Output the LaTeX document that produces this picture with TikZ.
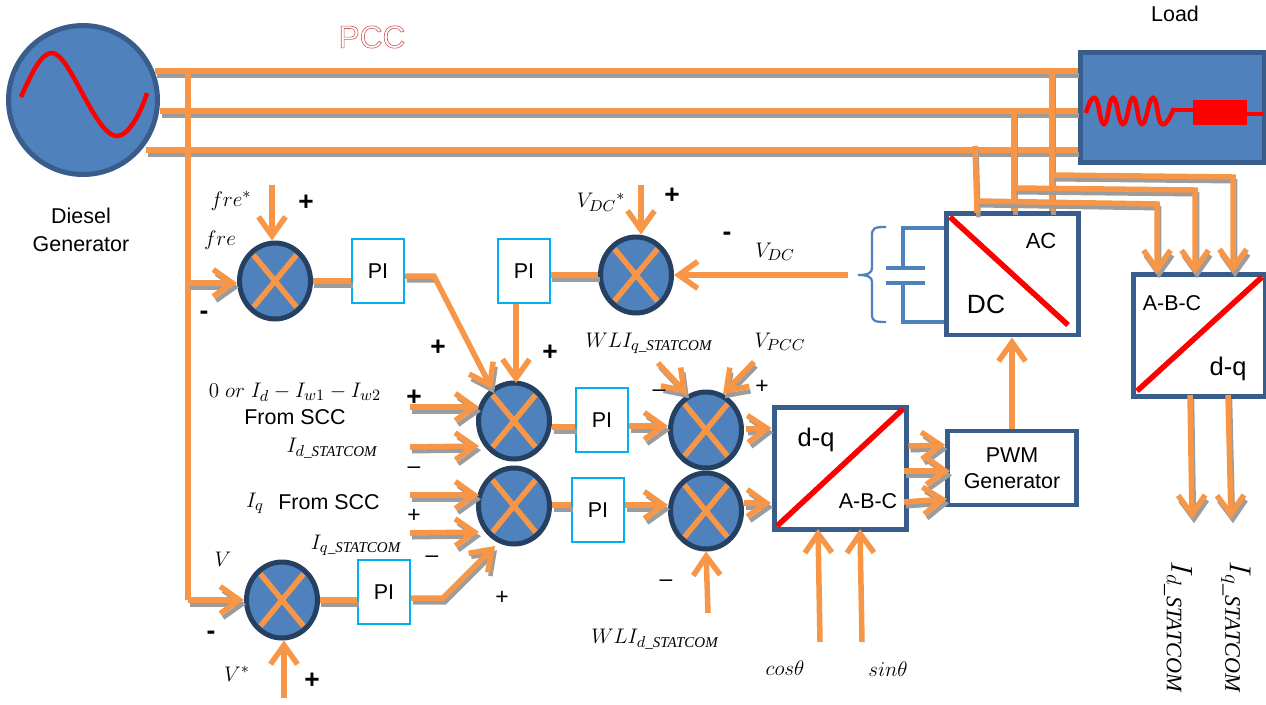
\documentclass[tikz,border=0pt]{standalone}
\usepackage{amsmath}
\usepackage{fontspec}
\setmainfont{Liberation Sans}
\newfontfamily\serifit{Liberation Serif}
\usetikzlibrary{arrows.meta, shapes.geometric}
\definecolor{wireorange}{HTML}{F79646}
\definecolor{wireshade}{HTML}{9C9C9C}
\definecolor{blockblue}{HTML}{4F81BD}
\definecolor{edgeblue}{HTML}{385D8A}
\definecolor{sumedge}{HTML}{254061}
\definecolor{piblue}{HTML}{00B0F0}
\newcommand{\stat}[1]{#1\text{\serifit\itshape\_STATCOM}}
\tikzset{
    barb/.tip={Straight Barb[length=0.38cm, width=0.54cm]},
    wire/.style={draw=wireorange, line width=0.11cm,
        preaction={draw=wireshade, line width=0.09cm, transform canvas={xshift=0.03cm, yshift=-0.085cm}}},
    feed/.style={draw=wireorange, line width=0.11cm},
    arrow wire/.style={draw=wireorange, line width=0.11cm, -barb,
        preaction={draw=wireshade, line width=0.09cm, -barb, transform canvas={xshift=0.04cm, yshift=-0.085cm}}},
    arrow feed/.style={feed, -barb},
    sumnode/.style={ellipse, draw=sumedge, fill=blockblue, line width=0.1cm, minimum width=1.42cm, minimum height=1.52cm, inner sep=0pt,
        path picture={
            \draw[wireorange, line width=0.11cm] ([shift={(-0.43cm,-0.52cm)}]path picture bounding box.center)
                -- ([shift={(0.43cm,0.52cm)}]path picture bounding box.center);
            \draw[wireorange, line width=0.11cm] ([shift={(-0.43cm,0.52cm)}]path picture bounding box.center)
                -- ([shift={(0.43cm,-0.52cm)}]path picture bounding box.center);
        }},
    pibox/.style={draw=piblue, fill=white, line width=0.045cm, minimum width=1.03cm, minimum height=1.28cm, inner sep=0pt, font=\fontsize{12.2}{14}\selectfont},
    convbox/.style={draw=edgeblue, fill=white, line width=0.1cm, inner sep=0pt},
    slash/.style={draw=red, line width=0.11cm},
    lab/.style={inner sep=0pt, font=\fontsize{12.2}{14}\selectfont},
    sign/.style={inner sep=0pt, font=\fontsize{15}{15}\selectfont\bfseries},
    thinsign/.style={inner sep=0pt, font=\fontsize{13}{13}\selectfont},
}
\begin{document}
\begin{tikzpicture}[x=0.02cm, y=-0.02cm]
\useasboundingbox (0,0) rectangle (1266,704);
% source and load
\node[circle, draw=edgeblue, fill=blockblue, line width=0.1cm, minimum size=2.98cm, inner sep=0pt] (genr) at (83,100) {};
\draw[red, line width=0.09cm] (21,97) .. controls (35,65) and (43,53) .. (52,53) .. controls (70,53) and (95,136) .. (117,136) .. controls (128,136) and (140,115) .. (147,93);
\node[lab, align=center] (genrname) at (81,230) {Diesel\\[2pt]Generator};
\node[draw=edgeblue, fill=blockblue, line width=0.1cm, minimum width=3.68cm, minimum height=2.22cm, inner sep=0pt] (load) at (1172,107.5) {};
\node[lab] (loadname) at (1175,14) {Load};
\draw[red, line width=0.09cm] plot[smooth, tension=0.9] coordinates {(1086,113) (1095,98) (1104,124) (1113,98) (1123,124) (1133,98) (1142,124) (1153,98) (1162,124) (1174,108)};
\node[fill=red, minimum width=1.08cm, minimum height=0.5cm, inner sep=0pt] (resist) at (1220,112.5) {};
\draw[red, line width=0.07cm] (1174,110) -- (resist.west |- 1174,110);
\draw[red, line width=0.07cm] (resist.east |- 1247,114) -- (1263,114);
\node (pcc) at (372,37) {\fontsize{18}{18}\selectfont\special{pdf:code q 1 Tr 0.35 w 0.80 0.35 0.35 RG}PCC\special{pdf:code Q}};
% converters
\node[convbox, minimum width=2.64cm, minimum height=2.44cm] (acdc) at (1012,274) {};
\draw[slash] (950,217) -- (1068,325);
\node[lab, font=\fontsize{12.5}{14}\selectfont] (aclab) at (1041,241) {AC};
\node[lab, font=\fontsize{15}{15}\selectfont] (dclab) at (986,304) {DC};
\node[convbox, minimum width=2.64cm, minimum height=2.44cm] (abcdq) at (1199,335) {};
\draw[slash] (1137,391) -- (1262,277);
\node[lab] (abclab) at (1172,303) {A-B-C};
\node[lab, font=\fontsize{14.5}{15}\selectfont] (dqlab) at (1228,369) {d-q};
\node[convbox, minimum width=2.64cm, minimum height=2.44cm] (dqabc) at (840,468) {};
\draw[slash] (777,526) -- (903,409);
\node[lab, font=\fontsize{14.5}{15}\selectfont] (dqtext) at (816,440) {d-q};
\node[lab] (abctext) at (868,501) {A-B-C};
\node[convbox, line width=0.09cm, minimum width=2.58cm, minimum height=1.48cm, align=center, font=\fontsize{12.2}{15}\selectfont] (pwm) at (1012,468) {PWM\\Generator};
% summing points and PI blocks
\node[sumnode] (sumf) at (275,281) {};
\node[sumnode] (sumv) at (282,600) {};
\node[sumnode] (sumdc) at (636,275) {};
\node[sumnode] (sumd) at (514,421) {};
\node[sumnode] (sumq) at (514,506) {};
\node[sumnode] (sumvd) at (706,430) {};
\node[sumnode] (sumvq) at (706,511) {};
\node[pibox] (pif) at (378,271) {PI};
\node[pibox] (pidc) at (524,271) {PI};
\node[pibox] (piv) at (384,592) {PI};
\node[pibox] (pid) at (602,420) {PI};
\node[pibox] (piq) at (598,510) {PI};
% three phase lines
\coordinate (busa) at (155,71);
\coordinate (busb) at (160,111);
\coordinate (busc) at (146,150);
\draw[wire] (busa) -- (busa -| load.west);
\draw[wire] (busb) -- (busb -| load.west);
\draw[wire] (busc) -- (busc -| load.west);
\coordinate (tapf) at (188,71);
\coordinate (tapfa) at (188,283);
\coordinate (tapfb) at (188,600);
\draw[feed] (tapf) -- (tapfb);
\draw[arrow wire] (tapfa) -- (sumf.west |- tapfa);
\draw[arrow wire] (tapfb) -- (sumv.west);
\coordinate (tapa) at (1052,71);
\coordinate (tapb) at (1014,111);
\coordinate (tapc) at (975,146);
\draw[wire] (tapa) -- (tapa |- acdc.north);
\draw[wire] (tapb) -- (tapb |- acdc.north);
\draw[wire] (tapc) -- (977,213);
\coordinate (brca) at (1052,175);
\coordinate (brcb) at (1014,188);
\coordinate (brcc) at (977,201);
\draw[arrow wire] (brca) -- (1233,177) -- (1233,273);
\draw[arrow wire] (brcb) -- (1195,190) -- (1195,274);
\draw[arrow wire] (brcc) -- (1157,204) -- (1157,274);
% capacitor
\draw[blockblue, line width=0.08cm] (acdc.west |- 0,228) -- (903,228) -- (903,268);
\draw[blockblue, line width=0.08cm] (886,268) -- (925,268) (886,283) -- (925,283);
\draw[blockblue, line width=0.08cm] (903,283) -- (903,322) -- (acdc.west |- 0,322);
\draw[blockblue, line width=0.045cm] (886,227) .. controls (874,227) and (872,228) .. (872,236) -- (872,268) .. controls (872,273) and (868,275) .. (858,275) .. controls (868,275) and (872,277) .. (872,282) -- (872,314) .. controls (872,321) and (874,322) .. (886,322);
% control paths
\coordinate (frefin) at (272,185);
\coordinate (vrefin) at (284,698);
\coordinate (dcrefin) at (641,185);
\coordinate (dcin) at (848,275);
\draw[arrow feed] (frefin) -- (frefin |- sumf.north);
\draw[arrow feed] (vrefin) -- (vrefin |- sumv.south);
\draw[arrow feed] (dcrefin) -- (dcrefin |- sumdc.north);
\draw[arrow feed] (dcin) -- (dcin -| sumdc.east);
\draw[wire] (sumf.east) -- (sumf.east -| pif.west);
\draw[wire] (sumv.east) -- (sumv.east -| piv.west);
\draw[wire] (pidc.east |- sumdc.west) -- (sumdc.west);
\coordinate (bendf) at (434,276);
\coordinate (bendv) at (443,598);
\draw[arrow wire] (pif.east |- bendf) -- (bendf) -- (492,389);
\draw[arrow wire] (piv.east |- bendv) -- (bendv) -- (495,546);
\draw[arrow feed] (516,304) -- (516,383);
\coordinate (ida) at (410,407);
\coordinate (idb) at (410,447);
\coordinate (iqa) at (410,495);
\coordinate (iqb) at (410,533);
\draw[arrow wire] (ida) -- (479,407);
\draw[arrow wire] (idb) -- (479,446);
\draw[arrow wire] (iqa) -- (479,495);
\draw[arrow wire] (iqb) -- (479,532);
\draw[wire] (sumd.east |- 0,427) -- (pid.west |- 0,427);
\draw[wire] (sumq.east |- 0,505) -- (piq.west |- 0,505);
\draw[arrow wire] (pid.east |- 0,426) -- (sumvd.west |- 0,426);
\draw[arrow wire] (piq.east |- 0,505) -- (sumvq.west |- 0,505);
\draw[arrow wire] (658,363) -- (687,394);
\draw[arrow wire] (754,362) -- (723,394);
\coordinate (wlid) at (708,613);
\draw[arrow feed] (wlid) -- (sumvq.south);
\draw[arrow wire] (746,429) -- (dqabc.west |- 0,428);
\draw[arrow wire] (744,503) -- (771,503);
\draw[arrow wire] (dqabc.east |- 0,446) -- (pwm.west |- 0,445);
\draw[arrow wire] (904,471) -- (950,471);
\draw[arrow wire] (904,502) -- (947,499);
\draw[arrow feed] (pwm.north) -- (acdc.south);
\coordinate (cosin) at (820,642);
\coordinate (sinin) at (862,642);
\draw[arrow feed] (cosin) -- (818,529);
\draw[arrow feed] (sinin) -- (860,529);
\coordinate (outd) at (1192,519);
\coordinate (outq) at (1231,519);
\draw[arrow wire] (1190,395) -- (outd);
\draw[arrow wire] (1228,395) -- (outq);
% labels
\node[lab] at (231,201) {$fre^{*}$};
\node[lab] at (220,240) {$fre$};
\node[lab] at (601,202) {$V_{DC}{}^{*}$};
\node[lab] at (775,252) {$V_{DC}$};
\node[lab] at (295,392) {$0\ or\ I_{d}-I_{w1}-I_{w2}$};
\node[lab] at (295,417) {From SCC};
\node[lab] at (332,448) {$I_{\stat{d}}$};
\node[lab] at (255,503) {$I_{q}$};
\node[lab] at (329,502) {From SCC};
\node[lab] at (356,545) {$I_{\stat{q}}$};
\node[lab] at (223,559) {$V$};
\node[lab] at (237,674) {$V^{*}$};
\node[lab] at (649,343) {$WLI_{\stat{q}}$};
\node[lab] at (780,342) {$V_{PCC}$};
\node[lab] at (655,639) {$WLI_{\stat{d}}$};
\node[lab] at (785,668) {$cos\theta$};
\node[lab] at (888,669) {$sin\theta$};
\node[lab, rotate=-90, font=\fontsize{18}{18}\selectfont] at (1178,627) {$I_{\stat{d}}$};
\node[lab, rotate=-90, font=\fontsize{18}{18}\selectfont] at (1236,627) {$I_{\stat{q}}$};
\node[sign] at (306,203) {+};
\node[sign] at (204,315) {-};
\node[sign] at (672,196) {+};
\node[sign] at (727,236) {-};
\node[sign] at (438,348) {+};
\node[sign] at (550,353) {+};
\node[sign] at (414,398) {+};
\node[sign] at (211,635) {-};
\node[sign] at (312,681) {+};
\node[thinsign] at (414,470) {--};
\node[thinsign] at (414,516) {+};
\node[thinsign] at (432,559) {--};
\node[thinsign] at (502,598) {+};
\node[thinsign] at (659,393) {--};
\node[thinsign] at (762,387) {+};
\node[thinsign] at (666,583) {--};
\end{tikzpicture}
\end{document}
